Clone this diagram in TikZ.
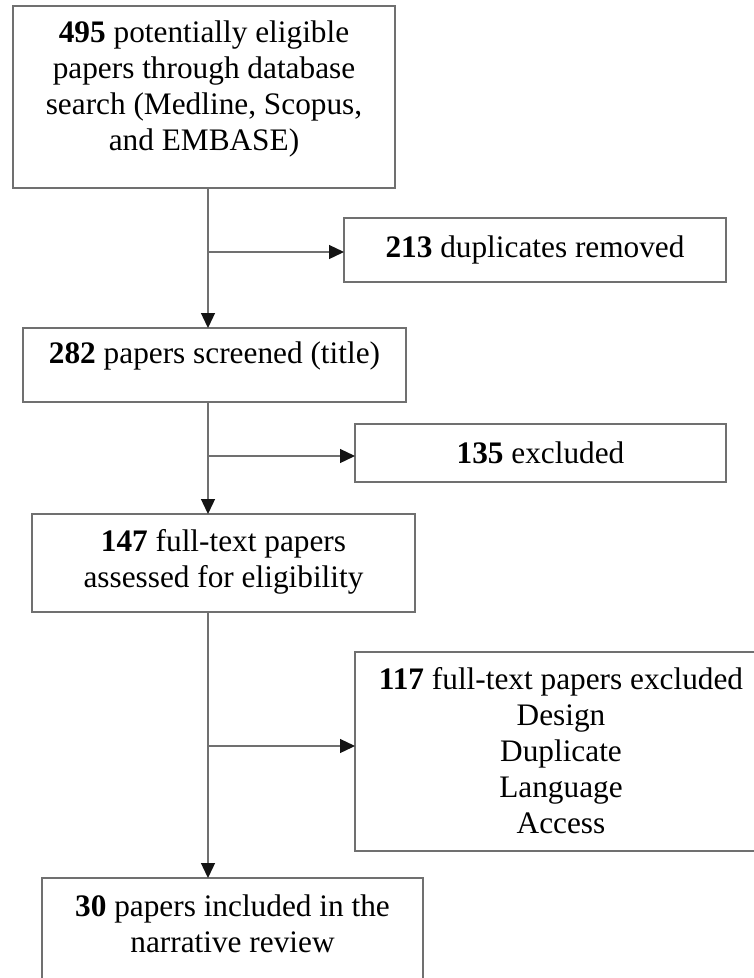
\documentclass[tikz,border=0pt]{standalone}
\usepackage{fontspec}
\setmainfont{Liberation Serif}
\usetikzlibrary{arrows.meta}
\definecolor{rulegray}{RGB}{112,112,112}
\definecolor{tipgray}{RGB}{20,20,20}
\tikzset{
  flowbox/.style={draw=rulegray, line width=1.3pt, fill=white, inner sep=0pt, outer sep=0pt},
  flowtext/.style={align=center, inner sep=0pt, font=\fontsize{31.3}{36}\selectfont},
  flowarrow/.style={draw=rulegray, line width=1.3pt,
    -{Triangle[length=15pt,width=14pt,color=tipgray,fill=tipgray]}}
}
\begin{document}
\begin{tikzpicture}[x=1pt,y=-1pt]
  \clip (0,0) rectangle (754,978);
  \fill[white] (0,0) rectangle (754,978);

  % boxes
  \node[flowbox, minimum width=382pt, minimum height=182pt] (b1) at (204,97) {};
  \node[flowbox, minimum width=382pt, minimum height=64pt]  (b2) at (535,250) {};
  \node[flowbox, minimum width=383pt, minimum height=74pt]  (b3) at (214.5,365) {};
  \node[flowbox, minimum width=371pt, minimum height=58pt]  (b4) at (540.5,453) {};
  \node[flowbox, minimum width=383pt, minimum height=98pt]  (b5) at (223.5,563) {};
  \node[flowbox, minimum width=412pt, minimum height=199pt] (b6) at (561,751.5) {};
  \node[flowbox, minimum width=381pt, minimum height=122pt] (b7) at (232.5,939) {};

  % texts
  \node[flowtext] (t1) at (204,89) {\textbf{495} potentially eligible\\papers through database\\search (Medline, Scopus,\\and EMBASE)};
  \node[flowtext] (t2) at (535,250) {\textbf{213} duplicates removed};
  \node[flowtext] (t3) at (214.5,356) {\textbf{282} papers screened (title)};
  \node[flowtext] (t4) at (540.5,453) {\textbf{135} excluded};
  \node[flowtext] (t5) at (223.5,562) {\textbf{147} full-text papers\\assessed for eligibility};
  \node[flowtext] (t6) at (561,751) {\textbf{117} full-text papers excluded\\Design\\Duplicate\\Language\\Access};
  \node[flowtext] (t7) at (232.5,924) {\textbf{30} papers included in the\\narrative review};

  % main flow line and side branches
  \coordinate (spine) at (208,0);
  \coordinate (j1) at (208,252);
  \coordinate (j2) at (208,456);
  \coordinate (j3) at (208,746);

  \draw[flowarrow] (b1.south -| spine) -- (b3.north -| spine);
  \draw[flowarrow] (j1) -- (j1 -| b2.west);
  \draw[flowarrow] (b3.south -| spine) -- (b5.north -| spine);
  \draw[flowarrow] (j2) -- (j2 -| b4.west);
  \draw[flowarrow] (b5.south -| spine) -- (b7.north -| spine);
  \draw[flowarrow] (j3) -- (j3 -| b6.west);
\end{tikzpicture}
\end{document}
